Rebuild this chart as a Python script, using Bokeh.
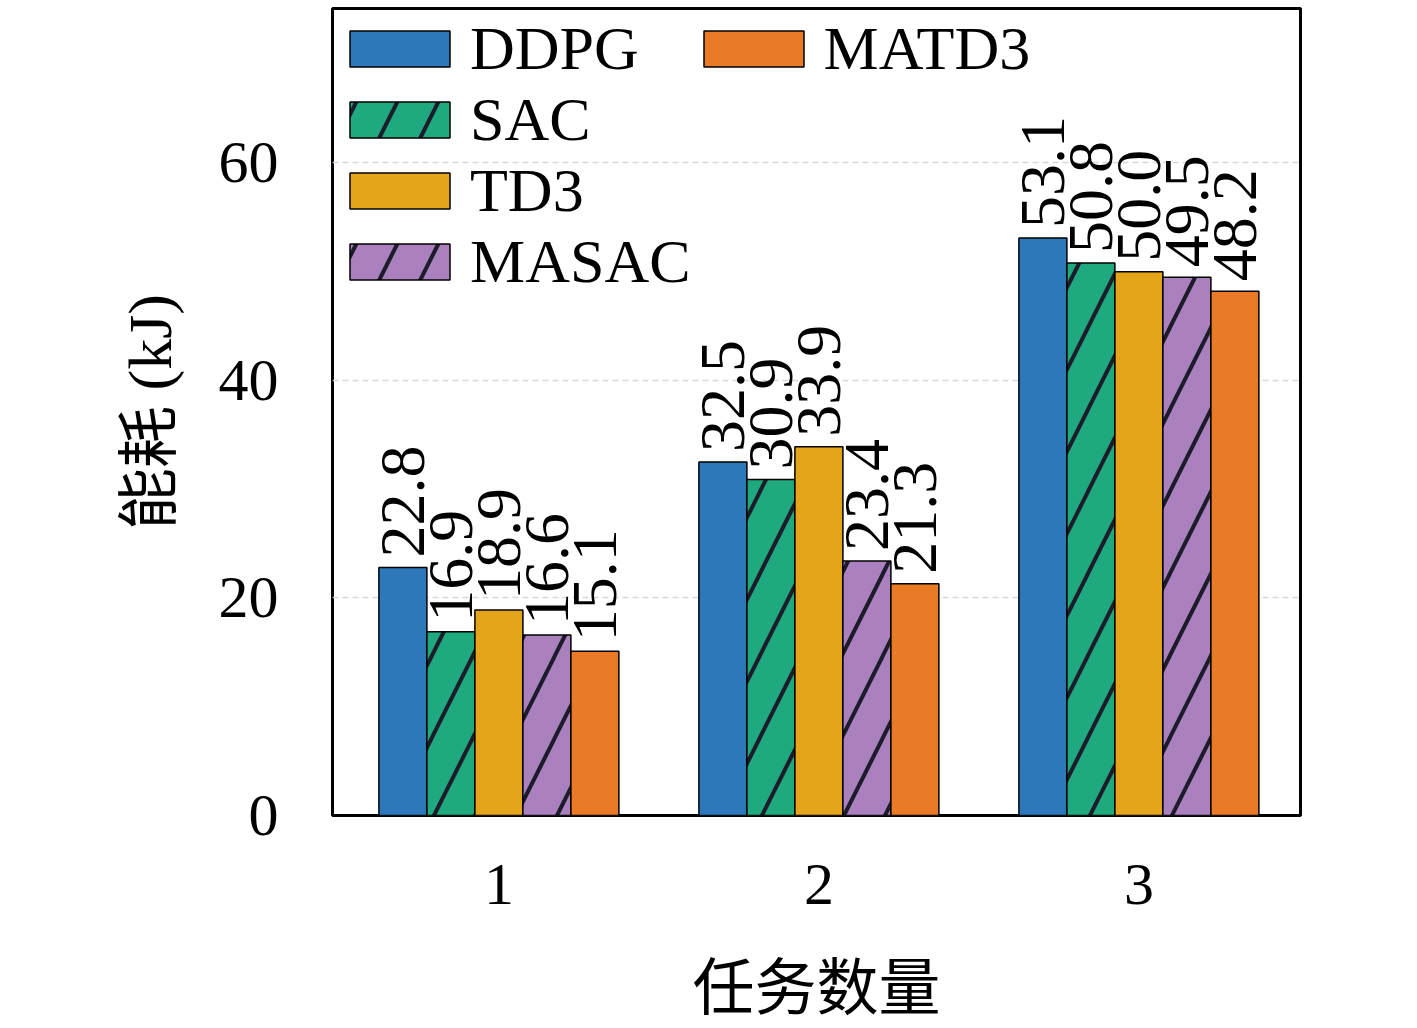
from math import pi
from bokeh.plotting import figure
from bokeh.models import ColumnDataSource, Legend, LegendItem, FixedTicker, Range1d
from bokeh.core.properties import value
from bokeh.embed import file_html
from bokeh.resources import INLINE

tasks = [1, 2, 3]
ddpg = [22.8, 32.5, 53.1]
sac = [16.9, 30.9, 50.8]
td3 = [18.9, 33.9, 50.0]
masac = [16.6, 23.4, 49.5]
matd3 = [15.1, 21.3, 48.2]

names = ["DDPG", "SAC", "TD3", "MASAC", "MATD3"]
series = [ddpg, sac, td3, masac, matd3]
colors = ["#2d78ba", "#1fa97e", "#e5a51a", "#ab80bf", "#e97b27"]
hatches = ["", "/", "", "/", ""]
offsets = [-0.3, -0.15, 0.0, 0.15, 0.3]
bar_w = 0.15

serif = "Liberation Serif, Noto Sans CJK SC"
fs = "60px"

p = figure(width=1400, height=1025, output_backend="svg", toolbar_location=None,
           x_range=Range1d(0.48, 3.505), y_range=Range1d(0, 74.2),
           min_border_left=332, min_border_right=100, min_border_top=8,
           min_border_bottom=200)

renderers = []
for name, vals, c, h, off in zip(names, series, colors, hatches, offsets):
    src = ColumnDataSource(dict(x=[t + off for t in tasks], top=vals,
                                lab=["%.1f" % v for v in vals]))
    r = p.vbar(x="x", top="top", width=bar_w, source=src, fill_color=c,
               line_color="black", line_width=1.5,
               hatch_pattern=h, hatch_color="#1c1c2a", hatch_scale=82,
               hatch_weight=4)
    renderers.append(r)
    p.text(x="x", y="top", text="lab", source=src, angle=pi / 2,
           text_align="left", text_baseline="middle", y_offset=-10,
           text_font=value("Liberation Serif"), text_font_size="64px",
           text_color="black")

items = [LegendItem(label=n, renderers=[r]) for n, r in zip(names, renderers)]
legend = Legend(items=items, location="top_left", orientation="vertical", nrows=4)
legend.label_text_font = "Liberation Serif"
legend.label_text_font_size = "62px"
legend.label_text_color = "black"
legend.glyph_width = 125
legend.glyph_height = 45
legend.label_height = 55
legend.spacing = 0
legend.label_standoff = 8
legend.padding = 5
legend.margin = 0
legend.border_line_alpha = 0
legend.background_fill_alpha = 0
p.add_layout(legend)

p.xaxis.ticker = FixedTicker(ticks=tasks)
p.yaxis.ticker = FixedTicker(ticks=[0, 20, 40, 60])
p.xaxis.axis_label = "任务数量"
p.yaxis.axis_label = "能耗 (kJ)"
for ax in [p.xaxis, p.yaxis]:
    ax.major_label_text_font = serif
    ax.major_label_text_font_size = fs
    ax.axis_label_text_font = serif
    ax.axis_label_text_font_size = "62px"
    ax.axis_label_text_font_style = "normal"
    ax.axis_line_color = None
    ax.major_tick_line_color = None
    ax.minor_tick_line_color = None
    ax.major_label_text_color = "black"
    ax.axis_label_text_color = "black"
p.yaxis.major_label_standoff = 48
p.xaxis.major_label_standoff = 43
p.yaxis.axis_label_standoff = 32
p.xaxis.axis_label_standoff = 48

p.xgrid.grid_line_color = None
p.ygrid.grid_line_color = "#d8d8d8"
p.ygrid.grid_line_dash = "6 4"
p.ygrid.grid_line_width = 1.5

p.outline_line_color = "black"
p.outline_line_width = 3
p.outline_line_alpha = 1

open("out.html", "w").write(file_html(p, INLINE))
